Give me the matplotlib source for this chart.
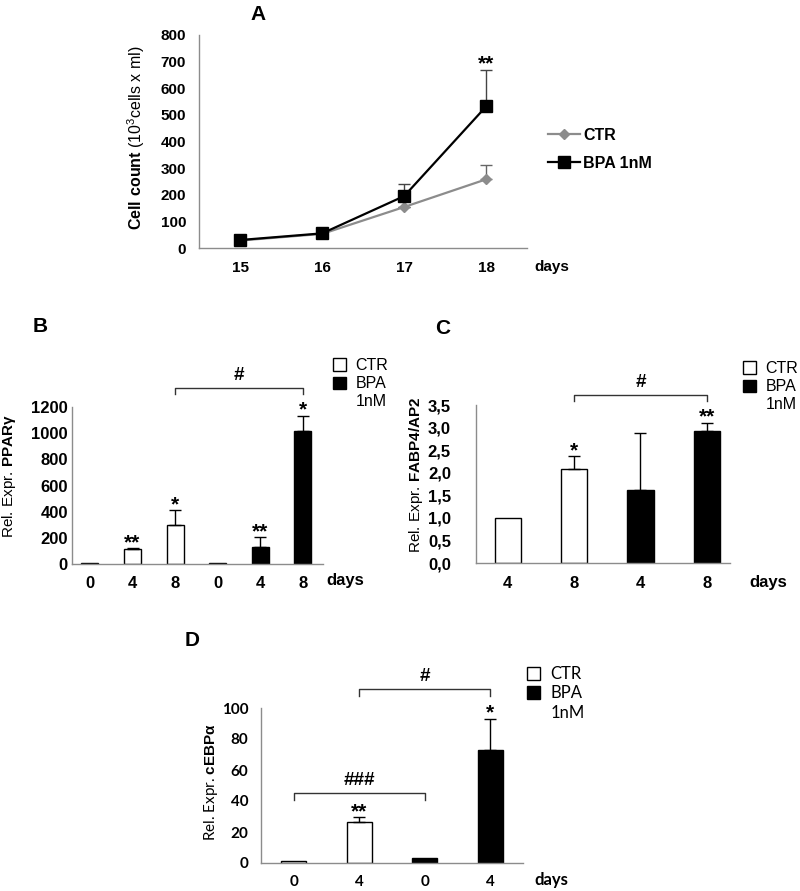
import matplotlib
matplotlib.use("Agg")
import matplotlib.pyplot as plt
from matplotlib.patches import Patch
from matplotlib.lines import Line2D
from matplotlib.ticker import FuncFormatter

plt.rcParams['font.family'] = ['Liberation Sans', 'DejaVu Sans']
plt.rcParams['mathtext.fontset'] = 'custom'
plt.rcParams['mathtext.rm'] = 'Liberation Sans'
plt.rcParams['mathtext.bf'] = 'Liberation Sans:bold'

# A - cell count
days_a = ["15", "16", "17", "18"]
ctr_a = [28, 53, 154, 258]
ctr_a_err = [0, 0, 0, 52]
bpa_a = [30, 55, 195, 532]
bpa_a_err = [0, 0, 46, 138]
stars_a = ["", "", "", "**"]

# B - PPARg
days_b = ["0", "4", "8", "0", "4", "8"]
group_b = ["CTR", "CTR", "CTR", "BPA", "BPA", "BPA"]
ppar = [5, 114, 298, 5, 132, 1018]
ppar_err = [0, 6, 114, 0, 72, 114]
stars_b = ["", "**", "*", "", "**", "*"]

# C - FABP4/AP2
days_c = ["4", "8", "4", "8"]
group_c = ["CTR", "CTR", "BPA", "BPA"]
fabp = [1.0, 2.09, 1.62, 2.93]
fabp_err = [0, 0.27, 1.25, 0.18]
stars_c = ["", "*", "", "**"]

# D - cEBPa
days_d = ["0", "4", "0", "4"]
group_d = ["CTR", "CTR", "BPA", "BPA"]
cebp = [1.3, 26.5, 3.0, 73]
cebp_err = [0, 3, 0, 20]
stars_d = ["", "**", "", "*"]

fill = {"CTR": "white", "BPA": "black"}
SPINE = "#8c8c8c"

fig = plt.figure(figsize=(8, 8.91), dpi=100)


def px(x, y):
    return x / 800, 1 - y / 891


def style_axes(ax, xpad, ypad, fs, font=None):
    for s in ["top", "right"]:
        ax.spines[s].set_visible(False)
    for s in ["left", "bottom"]:
        ax.spines[s].set_color(SPINE)
        ax.spines[s].set_linewidth(1)
    ax.tick_params(axis="x", length=0, pad=xpad)
    ax.tick_params(axis="y", length=0, pad=ypad)
    for lab in ax.get_xticklabels() + ax.get_yticklabels():
        lab.set_fontweight("bold")
        lab.set_fontsize(fs)
        if font:
            lab.set_fontfamily(font)


def bar_panel(ax, vals, errs, groups, labels, stars, width, ymax):
    x = list(range(len(vals)))
    ax.bar(x, vals, width, color=[fill[g] for g in groups],
           edgecolor="black", linewidth=1, zorder=2)
    ex = [i for i in x if errs[i] > 0]
    ax.errorbar(ex, [vals[i] for i in ex], yerr=[[0] * len(ex), [errs[i] for i in ex]],
                fmt="none", ecolor="black", elinewidth=1, capsize=4, capthick=1, zorder=3)
    for i in x:
        if stars[i]:
            ax.annotate(stars[i], (i, vals[i] + errs[i]), xytext=(0, 4),
                        textcoords="offset points", ha="center", va="center",
                        fontsize=15, fontweight="bold")
    ax.set_xticks(x)
    ax.set_xticklabels(labels)
    ax.set_ylim(0, ymax)


def bracket(ax, i0, i1, vals, errs, ymax, mark, up=0.18):
    top = max(vals[i] + errs[i] for i in range(i0, i1 + 1)) + up * ymax
    tick = 0.043 * ymax
    ax.plot([i0, i0, i1, i1], [top - tick, top, top, top - tick], color="#333333",
            lw=1, clip_on=False)
    ax.annotate(mark, ((i0 + i1) / 2, top), xytext=(0, 9), textcoords="offset points",
                ha="center", va="center", fontsize=13.5, fontweight="bold",
                annotation_clip=False)


def bar_legend(x, y, fs, font=None):
    handles = [Patch(facecolor="white", edgecolor="black", linewidth=1),
               Patch(facecolor="black", edgecolor="black", linewidth=1),
               Patch(facecolor="none", edgecolor="none")]
    prop = {"size": fs}
    if font:
        prop["family"] = font
    fig.legend(handles, ["CTR", "BPA", "1nM"], loc="upper left",
               bbox_to_anchor=px(x, y), frameon=False, borderpad=0, borderaxespad=0,
               handlelength=0.8, handleheight=0.8, handletextpad=0.6,
               labelspacing=0.2, prop=prop)


# ---------- A ----------
axA = fig.add_axes([0.249, 1 - 248 / 891, 0.41, 213 / 891])
xa = list(range(len(days_a)))
axA.errorbar(xa, ctr_a, yerr=[[0] * 4, ctr_a_err], color="#8c8c8c", lw=1.6,
             marker="D", ms=5.5, ecolor="#666666", elinewidth=1, capsize=4, zorder=2)
axA.errorbar(xa, bpa_a, yerr=[[0] * 4, bpa_a_err], color="black", lw=1.6,
             marker="s", ms=8, ecolor="#444444", elinewidth=1, capsize=4, zorder=3)
for i in xa:
    if stars_a[i]:
        axA.annotate(stars_a[i], (i, bpa_a[i] + bpa_a_err[i]), xytext=(0, 4),
                     textcoords="offset points", ha="center", va="center",
                     fontsize=15, fontweight="bold")
axA.set_xlim(-0.5, 3.5)
axA.set_ylim(0, 800)
axA.set_yticks(range(0, 801, 100))
axA.set_xticks(xa)
axA.set_xticklabels(days_a)
style_axes(axA, 9, 9.5, 11)
axA.set_ylabel(r"$\mathbf{Cell\ count}$ (10$^{3}$cells x ml)", fontsize=11.5)
axA.yaxis.set_label_coords(-0.16, 0.52)
fig.text(*px(552, 267), "days", fontsize=11, fontweight="bold", ha="center", va="center")
fig.legend([Line2D([], [], color="#8c8c8c", lw=1.6, marker="D", ms=5.5),
            Line2D([], [], color="black", lw=1.6, marker="s", ms=8)],
           ["CTR", "BPA 1nM"], loc="upper left", bbox_to_anchor=px(548, 128),
           frameon=False, borderpad=0, borderaxespad=0, numpoints=1,
           handlelength=2.0, handletextpad=0.2, labelspacing=0.8,
           prop={"size": 11.5, "weight": "bold"})
fig.text(*px(258, 14), "A", fontsize=15, fontweight="bold", ha="center", va="center")

# ---------- B ----------
axB = fig.add_axes([0.09, 1 - 564 / 891, 251 / 800, 157 / 891])
bar_panel(axB, ppar, ppar_err, group_b, days_b, stars_b, 0.4, 1200)
axB.set_xlim(-0.42, 5.47)
axB.set_yticks(range(0, 1201, 200))
bracket(axB, 2, 5, ppar, ppar_err, 1200, "#")
style_axes(axB, 9, 3, 12)
axB.set_ylabel(r"Rel. Expr. $\mathbf{PPAR\gamma}$", fontsize=11)
axB.yaxis.set_label_coords(-0.215, 0.56)
fig.text(*px(345, 581), "days", fontsize=12, fontweight="bold", ha="center", va="center")
bar_legend(333, 358, 11.5)
fig.text(*px(40, 327), "B", fontsize=15, fontweight="bold", ha="center", va="center")

# ---------- C ----------
axC = fig.add_axes([0.595, 1 - 563 / 891, 254 / 800, 158 / 891])
bar_panel(axC, fabp, fabp_err, group_c, days_c, stars_c, 0.4, 3.5)
axC.set_xlim(-0.48, 3.35)
axC.set_yticks([0, 0.5, 1, 1.5, 2, 2.5, 3, 3.5])
axC.yaxis.set_major_formatter(FuncFormatter(lambda v, p: f"{v:.1f}".replace(".", ",")))
bracket(axC, 1, 3, fabp, fabp_err, 3.5, "#", up=0.177)
style_axes(axC, 9, 18, 12)
axC.set_ylabel(r"Rel. Expr. $\mathbf{FABP4/AP2}$", fontsize=11)
axC.yaxis.set_label_coords(-0.2, 0.557)
fig.text(*px(768, 582), "days", fontsize=12, fontweight="bold", ha="center", va="center")
bar_legend(743, 361, 11.5)
fig.text(*px(443, 328), "C", fontsize=15, fontweight="bold", ha="center", va="center")

# ---------- D ----------
axD = fig.add_axes([261 / 800, 1 - 863 / 891, 262 / 800, 155 / 891])
bar_panel(axD, cebp, cebp_err, group_d, days_d, stars_d, 0.38, 100)
axD.set_xlim(-0.5, 3.5)
axD.set_yticks(range(0, 101, 20))
bracket(axD, 0, 2, cebp, cebp_err, 100, "###", up=0.155)
bracket(axD, 1, 3, cebp, cebp_err, 100, "#", up=0.19)
style_axes(axD, 9, 9, 11, font="Lato")
axD.set_ylabel(r"Rel. Expr. $\mathbf{cEBP\alpha}$", fontsize=11, fontfamily="Lato")
axD.yaxis.set_label_coords(-0.156, 0.52)
fig.text(*px(551, 880), "days", fontsize=12, fontweight="bold", ha="center",
         va="center", fontfamily="Lato")
bar_legend(527, 666, 12, font="Lato")
fig.text(*px(192, 640), "D", fontsize=15, fontweight="bold", ha="center", va="center")

fig.savefig("out.png", dpi=100)
